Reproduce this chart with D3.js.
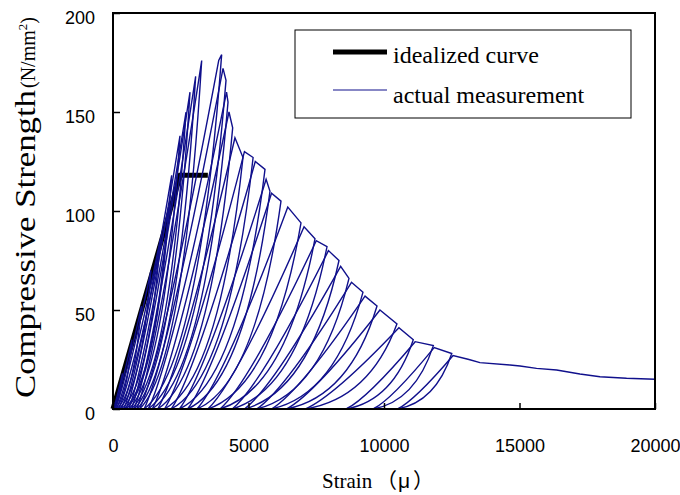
<!DOCTYPE html>
<html>
<head>
<meta charset="utf-8">
<script src="https://cdn.jsdelivr.net/npm/d3@7"></script>
<style>
  body { margin: 0; background: #fff; }
  svg text { fill: #000; }
</style>
</head>
<body>
<div id="chart"></div>
<script>
// axis ticks
const xTicks = [0, 5000, 10000, 15000, 20000];
const yTicks = [0, 50, 100, 150, 200];

// idealized curve (bilinear)
const idealStrain = [0, 2480, 3500];
const idealStress = [0, 118, 118];

// actual measurement, one entry per load cycle
// reload ends where it meets the envelope (reach), then goes on to the peak
const peakStrain = [350, 700, 1050, 1400, 1750, 2050, 2165, 2472, 2694, 2841, 3050, 3273,
  4010, 4170, 4244, 4416, 4797, 5170, 5609, 5793, 6199, 6937, 7454, 7897, 8339, 8708,
  9225, 9742, 10480, 11080, 11820, 12500, 13136];
const peakStress = [18, 35, 52, 70, 86, 102, 118, 138, 150, 160, 168, 176,
  179, 166, 155, 142, 127, 127, 121, 110, 105, 94, 86, 82, 75, 66,
  59, 52, 43, 35, 32, 28, 25];
const reachStrain = [350, 700, 1050, 1400, 1750, 2050, 2165, 2472, 2694, 2841, 3050, 3273,
  3900, 4060, 4190, 4280, 4500, 4850, 5250, 5650, 5850, 6450, 7050, 7500, 7950, 8400,
  8800, 9300, 9850, 10550, 11150, 11850, 12550];
const reachStress = [18, 35, 52, 70, 86, 102, 118, 138, 150, 160, 168, 176,
  176, 172, 160, 150, 137, 130, 125, 116, 109, 102, 92, 85, 80, 72,
  64, 57, 50, 41, 34, 31, 27];
// strain left when a cycle is unloaded to zero (last cycle goes into the tail)
const residualStrain = [20, 60, 120, 200, 300, 400, 480, 580, 680, 780, 880, 980,
  1150, 1300, 1450, 1650, 1900, 2150, 2450, 2750, 3100, 3500, 3950, 4400, 4850, 5300,
  5850, 6400, 7100, 8600, 9600, 10500];

// softening tail after the last cycle
const tailStrain = [13136, 13540, 14650, 15020, 15630, 16370, 17230, 17970, 18950, 20000];
const tailStress = [25, 23.4, 22.2, 21.7, 20.5, 19.7, 17.7, 16.3, 15.5, 15.0];

const W = 680, H = 495;
const margin = { top: 13, right: 25, bottom: 86, left: 113 };
const width = W - margin.left - margin.right;
const height = H - margin.top - margin.bottom;
const blue = "#10108c";
const serif = "'Liberation Serif', 'Times New Roman', serif";

const svg = d3.select("#chart").append("svg")
  .attr("width", W)
  .attr("height", H);

const g = svg.append("g")
  .attr("transform", `translate(${margin.left},${margin.top})`);

const x = d3.scaleLinear().domain([0, 20000]).range([0, width]);
const y = d3.scaleLinear().domain([0, 200]).range([height, 0]);

// idealized curve, under the measured loops
g.append("path")
  .datum(idealStrain.map((s, i) => [s, idealStress[i]]))
  .attr("fill", "none")
  .attr("stroke", "#000")
  .attr("stroke-width", 5)
  .attr("d", d3.line().x((d) => x(d[0])).y((d) => y(d[1])));

// one path per cycle: reload, follow envelope, unload
function loopPath(i) {
  const p = d3.path();
  const x0 = x(i === 0 ? 0 : residualStrain[i - 1]);
  const y0 = y(0);
  const xa = x(reachStrain[i]), ya = y(reachStress[i]);
  const xp = x(peakStrain[i]), yp = y(peakStress[i]);
  p.moveTo(x0, y0);
  p.quadraticCurveTo(x0 + (xa - x0) * 0.3, y0 - (y0 - ya) * 0.15, xa, ya);
  p.lineTo(xp, yp);
  if (i < residualStrain.length) {
    const xr = x(residualStrain[i]);
    p.quadraticCurveTo(xr + (xp - xr) * 0.7, y0 - (y0 - yp) * 0.12, xr, y0);
  }
  return p.toString();
}

g.append("g")
  .selectAll("path")
  .data(d3.range(peakStrain.length))
  .join("path")
  .attr("fill", "none")
  .attr("stroke", blue)
  .attr("stroke-width", 1.4)
  .attr("d", (i) => loopPath(i));

g.append("path")
  .datum(tailStrain.map((s, i) => [s, tailStress[i]]))
  .attr("fill", "none")
  .attr("stroke", blue)
  .attr("stroke-width", 1.4)
  .attr("d", d3.line().x((d) => x(d[0])).y((d) => y(d[1])));

// axes, ticks pointing inward
const xAxis = g.append("g")
  .attr("transform", `translate(0,${height})`)
  .call(d3.axisBottom(x).tickValues(xTicks).tickSize(-6).tickPadding(30).tickFormat(d3.format("d")));

const yAxis = g.append("g")
  .call(d3.axisLeft(y).tickValues(yTicks).tickSize(-7).tickPadding(18));

[xAxis, yAxis].forEach((a) => {
  a.select(".domain").remove();
  a.selectAll(".tick line").attr("stroke", "#000").attr("stroke-width", 1.5);
  a.selectAll(".tick text")
    .style("font-family", "'Liberation Sans', Arial, sans-serif")
    .style("font-size", "18px");
});
yAxis.selectAll(".tick text").attr("dy", "0.57em");

// frame
g.append("rect")
  .attr("width", width)
  .attr("height", height)
  .attr("fill", "none")
  .attr("stroke", "#000")
  .attr("stroke-width", 2);

// axis titles
svg.append("text")
  .attr("transform", "translate(35,398) rotate(-90)")
  .attr("textLength", 308)
  .attr("lengthAdjust", "spacingAndGlyphs")
  .style("font-family", serif)
  .style("font-size", "30px")
  .text("Compressive Strength");

const unit = svg.append("text")
  .attr("transform", "translate(35,88) rotate(-90)")
  .style("font-family", serif)
  .style("font-size", "20px");
unit.append("tspan").text("(N/mm");
unit.append("tspan").attr("dy", -8).style("font-size", "13px").text("2");
unit.append("tspan").attr("dy", 8).text(")");

const xTitle = svg.append("text")
  .attr("y", 488)
  .style("font-family", serif)
  .style("font-size", "21px");
xTitle.append("tspan").attr("x", 322).text("Strain");
xTitle.append("tspan").attr("x", 376).style("font-family", "'Noto Sans CJK JP', sans-serif").text("（");
xTitle.append("tspan").attr("x", 398).style("font-family", "'Liberation Sans', Arial, sans-serif").text("μ");
xTitle.append("tspan").attr("x", 413).style("font-family", "'Noto Sans CJK JP', sans-serif").text("）");

// legend
const legend = svg.append("g");
legend.append("rect")
  .attr("x", 295).attr("y", 30)
  .attr("width", 336).attr("height", 88)
  .attr("fill", "#fff")
  .attr("stroke", "#000")
  .attr("stroke-width", 1);

const legendItems = [
  { label: "idealized curve", color: "#000", w: 5, ly: 52, ty: 63 },
  { label: "actual measurement", color: blue, w: 1.2, ly: 90, ty: 103 },
];
legendItems.forEach((d) => {
  legend.append("line")
    .attr("x1", 333).attr("x2", 387)
    .attr("y1", d.ly).attr("y2", d.ly)
    .attr("stroke", d.color)
    .attr("stroke-width", d.w);
  legend.append("text")
    .attr("x", 393).attr("y", d.ty)
    .style("font-family", serif)
    .style("font-size", "24px")
    .text(d.label);
});
</script>
</body>
</html>
